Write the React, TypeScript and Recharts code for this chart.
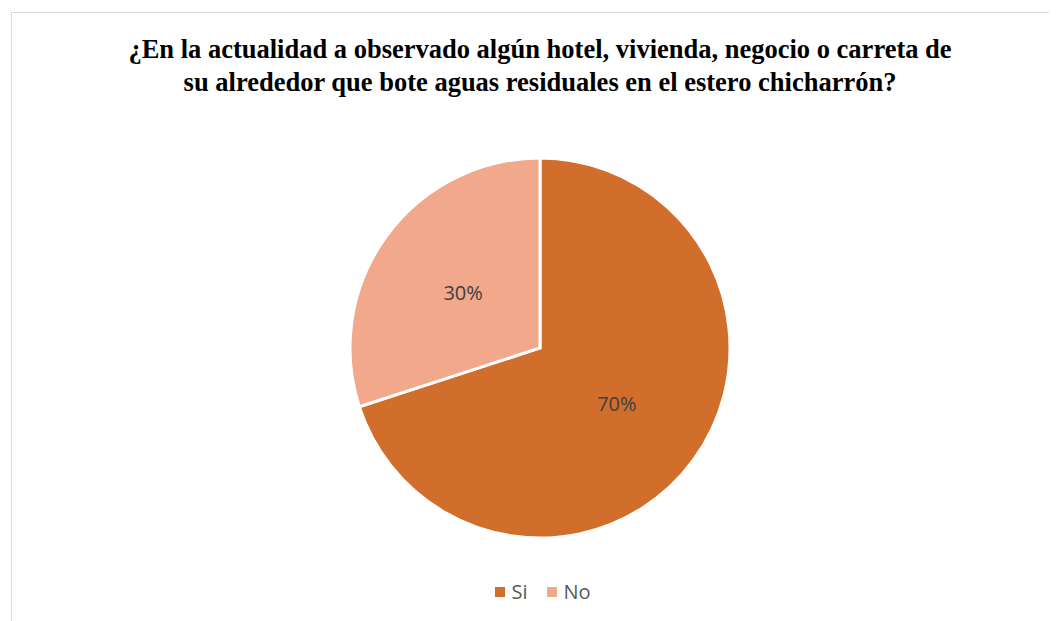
import { PieChart, Pie, Cell, Legend } from "recharts";

const categories = ["Si", "No"];
const values = [70, 30];
const colors = ["#D26E2B", "#F1A88B"];
const titleLines = [
  "¿En la actualidad a observado algún hotel, vivienda, negocio o carreta de",
  "su alrededor que bote aguas residuales en el estero chicharrón?",
];

const data = categories.map((name, i) => ({ name, value: values[i] }));
const total = values.reduce((a, b) => a + b, 0);

const RAD = Math.PI / 180;

function PctLabel(props: any) {
  const { cx, cy, midAngle, outerRadius, value } = props;
  const r = outerRadius * 0.5;
  const x = cx + r * Math.cos(-midAngle * RAD);
  const y = cy + r * Math.sin(-midAngle * RAD);
  return (
    <text
      x={x}
      y={y}
      textAnchor="middle"
      dominantBaseline="central"
      fill="#404040"
      fontSize={20}
      fontFamily="'Open Sans', 'Noto Sans', sans-serif"
    >
      {Math.round((value / total) * 100) + "%"}
    </text>
  );
}

function LegendContent() {
  return (
    <div
      style={{
        display: "flex",
        justifyContent: "center",
        gap: 20,
        fontFamily: "'Open Sans', 'Noto Sans', sans-serif",
        fontSize: 20,
        color: "#595959",
      }}
    >
      {categories.map((c, i) => (
        <div key={c} style={{ display: "flex", alignItems: "center" }}>
          <span
            style={{ width: 10, height: 10, background: colors[i], display: "inline-block", marginRight: 6 }}
          />
          <span>{c}</span>
        </div>
      ))}
    </div>
  );
}

export default function App() {
  return (
    <div style={{ position: "relative", width: 1049, height: 613, overflow: "hidden", background: "#fff" }}>
      <div
        style={{
          position: "absolute",
          left: 3,
          top: 4,
          width: 1100,
          height: 700,
          border: "1.5px solid #d9d9d9",
        }}
      />
      <div
        style={{
          position: "absolute",
          left: 0,
          top: 25,
          width: 1064,
          textAlign: "center",
          fontFamily: "'Liberation Serif', 'Times New Roman', serif",
          fontWeight: "bold",
          fontSize: 26.5,
          lineHeight: "33px",
          color: "#000",
        }}
      >
        {titleLines.map((t) => (
          <div key={t}>{t}</div>
        ))}
      </div>
      <PieChart width={1049} height={613} style={{ position: "absolute", left: 0, top: 0 }}>
        <Pie
          data={data}
          dataKey="value"
          nameKey="name"
          cx={527}
          cy={335}
          outerRadius={190}
          startAngle={90}
          endAngle={-270}
          stroke="#ffffff"
          strokeWidth={3}
          label={PctLabel}
          labelLine={false}
          isAnimationActive={false}
        >
          {data.map((d, i) => (
            <Cell key={d.name} fill={colors[i]} />
          ))}
        </Pie>
        <Legend
          content={LegendContent}
          wrapperStyle={{ position: "absolute", left: 0, top: 570, width: 1070 }}
        />
      </PieChart>
    </div>
  );
}
